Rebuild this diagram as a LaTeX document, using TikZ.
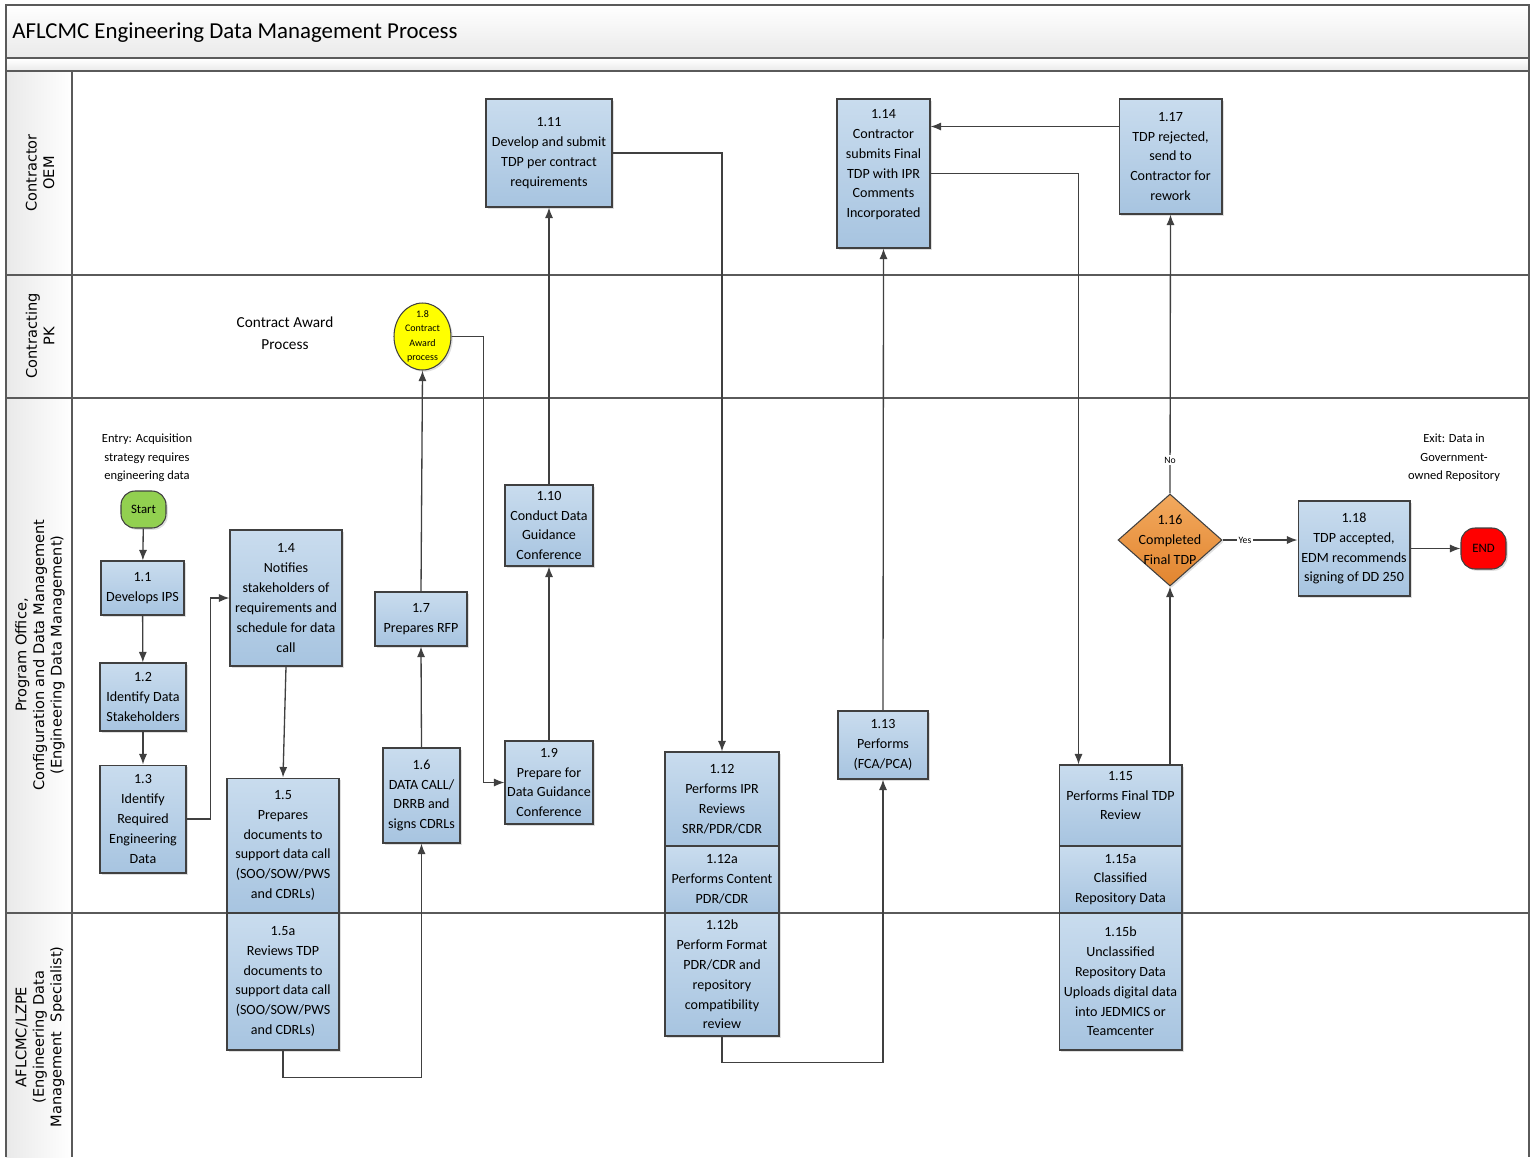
\documentclass[tikz,border=0pt]{standalone}
\usepackage{fontspec}
\setmainfont{Carlito}
\newfontfamily\lanefont{DejaVu Sans}
\usetikzlibrary{shapes.geometric,shadows,arrows.meta}

\definecolor{boxtop}{HTML}{C9DCEE}
\definecolor{boxbot}{HTML}{A7C4E0}
\definecolor{edgegray}{HTML}{404040}
\definecolor{framegray}{HTML}{5A5A5A}
\definecolor{bandgray}{HTML}{E9E9E9}
\definecolor{diatop}{HTML}{F2A95E}
\definecolor{diabot}{HTML}{E2852F}
\definecolor{startgreen}{HTML}{92D050}
\definecolor{endred}{HTML}{FF0000}
\definecolor{awardyellow}{HTML}{FFFF00}

\begin{document}
\begin{tikzpicture}[
    x=0.02cm, y=-0.02cm,
    every node/.style={font=\fontsize{8}{11.3}\selectfont},
    procbox/.style={rectangle, draw=edgegray, line width=0.6pt, top color=boxtop, bottom color=boxbot, align=center, inner sep=1pt, drop shadow={shadow xshift=1pt, shadow yshift=-1pt, opacity=0.25}},
    decision/.style={diamond, draw=edgegray, line width=0.6pt, top color=diatop, bottom color=diabot, inner sep=0pt, minimum width=2.08cm, minimum height=1.84cm, drop shadow={shadow xshift=1pt, shadow yshift=-1pt, opacity=0.25}},
    terminal/.style={rectangle, rounded corners=8pt, draw=edgegray, line width=0.6pt, minimum width=0.9cm, inner sep=1pt, font=\fontsize{7.3}{9}\selectfont, drop shadow={shadow xshift=1pt, shadow yshift=-1pt, opacity=0.25}},
    award/.style={ellipse, draw=edgegray, line width=0.6pt, fill=awardyellow, inner sep=0pt, minimum width=1.14cm, minimum height=1.34cm, drop shadow={shadow xshift=1pt, shadow yshift=-1pt, opacity=0.25}},
    note/.style={align=center, inner sep=0pt, font=\fontsize{7.1}{10.5}\selectfont},
    lanelabel/.style={rotate=90, align=center, inner sep=0pt, font=\lanefont\fontsize{8.3}{10}\selectfont},
    lane/.style={draw=framegray, line width=0.8pt},
    flow/.style={-{Latex[length=6pt,width=4.6pt]}, draw=edgegray, line width=0.75pt},
    tiny/.style={fill=white, inner sep=1pt, font=\fontsize{5.5}{6}\selectfont}
]
\useasboundingbox (0,0) rectangle (1534,1157);

% header bands and lane column
\shade[top color=white, bottom color=bandgray] (6,5) rectangle (1529,58);
\shade[top color=white, bottom color=bandgray] (6,59) rectangle (1529,71);
\shade[left color=bandgray, right color=white] (6,71) rectangle (72,1157);
\draw[lane] (6,1157) -- (6,5) -- (1529,5) -- (1529,1157);
\draw[lane] (6,58) -- (1529,58);
\draw[lane] (6,71) -- (1529,71);
\draw[lane] (72,71) -- (72,1157);
\draw[lane] (6,275) -- (1529,275);
\draw[lane] (6,398) -- (1529,398);
\draw[lane] (6,913) -- (1529,913);

\node[anchor=west, inner sep=0pt, font=\fontsize{13}{15}\selectfont] (title) at (12,33) {AFLCMC Engineering Data Management Process};

% lanes
\node[lanelabel] (laneoem) at (40,173) {Contractor\\OEM};
\node[lanelabel] (lanepk) at (40,336) {Contracting\\PK};
\node[lanelabel] (lanepo) at (40,655) {Program Office,\\Configuration and Data Management\\(Engineering Data Management)};
\node[lanelabel] (lanelz) at (40,1037) {AFLCMC/LZPE\\(Engineering Data\\Management\ \ Specialist)};

% notes
\node[note] (entry) at (147,458) {Entry: Acquisition\\strategy requires\\engineering data};
\node[note] (exit) at (1454,458) {Exit: Data in\\Government-\\owned Repository};
\node[align=center, font=\fontsize{8.7}{12.5}\selectfont] (awardnote) at (285,333) {Contract Award\\Process};

% steps
\node[terminal, fill=startgreen, minimum height=0.74cm] (nstart) at (143.5,509.5) {Start};
\node[procbox, minimum width=1.66cm, minimum height=1.08cm] (n11) at (142.5,588) {1.1\\Develops IPS};
\node[procbox, minimum width=1.72cm, minimum height=1.36cm] (n12) at (143,697) {1.2\\Identify Data\\Stakeholders};
\node[procbox, minimum width=1.72cm, minimum height=2.16cm] (n13) at (143,819) {1.3\\Identify\\Required\\Engineering\\Data};
\node[procbox, minimum width=2.24cm, minimum height=2.72cm] (n14) at (286,598) {1.4\\Notifies\\stakeholders of\\requirements and\\schedule for data\\call};
\node[procbox, minimum width=2.24cm, minimum height=2.70cm] (n15) at (283,845.5) {1.5\\Prepares\\documents to\\support data call\\(SOO/SOW/PWS\\and CDRLs)};
\node[procbox, minimum width=2.24cm, minimum height=2.74cm] (n15a) at (283,981.5) {1.5a\\Reviews TDP\\documents to\\support data call\\(SOO/SOW/PWS\\and CDRLs)};
\node[procbox, minimum width=1.54cm, minimum height=1.90cm] (n16) at (421.5,795.5) {1.6\\DATA CALL/\\DRRB and\\signs CDRLs};
\node[procbox, minimum width=1.84cm, minimum height=1.08cm] (n17) at (421,619) {1.7\\Prepares RFP};
\node[award] (n18) at (422.5,336.5) {};
\node[align=center, inner sep=0pt, font=\fontsize{5.7}{8.2}\selectfont] (n18t) at (n18) {1.8\\Contract\\Award\\process};
\node[procbox, minimum width=1.76cm, minimum height=1.66cm] (n19) at (549,782.5) {1.9\\Prepare for\\Data Guidance\\Conference};
\node[procbox, minimum width=1.76cm, minimum height=1.62cm] (n110) at (549,525.5) {1.10\\Conduct Data\\Guidance\\Conference};
\node[procbox, minimum width=2.52cm, minimum height=2.16cm] (n111) at (549,153) {1.11\\Develop and submit\\TDP per contract\\requirements};
\node[procbox, minimum width=2.28cm, minimum height=1.88cm] (n112) at (722,799) {1.12\\Performs IPR\\Reviews\\SRR/PDR/CDR};
\node[procbox, minimum width=2.28cm, minimum height=1.34cm] (n112a) at (722,879.5) {1.12a\\Performs Content\\PDR/CDR};
\node[procbox, minimum width=2.28cm, minimum height=2.46cm] (n112b) at (722,974.5) {1.12b\\Perform Format\\PDR/CDR and\\repository\\compatibility\\review};
\node[procbox, minimum width=1.80cm, minimum height=1.36cm] (n113) at (883,745) {1.13\\Performs\\(FCA/PCA)};
\node[procbox, minimum width=1.86cm, minimum height=2.98cm] (n114) at (883.5,173.5) {1.14\\Contractor\\submits Final\\TDP with IPR\\Comments\\Incorporated\\[0pt]};
\node[procbox, minimum width=2.46cm, minimum height=1.62cm] (n115) at (1120.5,805.5) {1.15\\Performs Final TDP\\Review\\[0pt]};
\node[procbox, minimum width=2.46cm, minimum height=1.34cm] (n115a) at (1120.5,879.5) {1.15a\\Classified\\Repository Data};
\node[procbox, minimum width=2.46cm, minimum height=2.74cm] (n115b) at (1120.5,981.5) {1.15b\\Unclassified\\Repository Data\\Uploads digital data\\into JEDMICS or\\Teamcenter};
\node[decision] (n116) at (1170,540) {};
\node[align=center, inner sep=0pt] (n116t) at (n116) {1.16\\Completed\\Final TDP};
\node[procbox, minimum width=2.06cm, minimum height=2.30cm] (n117) at (1170.5,156.5) {1.17\\TDP rejected,\\send to\\Contractor for\\rework};
\node[procbox, minimum width=2.24cm, minimum height=1.90cm] (n118) at (1354,548.5) {1.18\\TDP accepted,\\EDM recommends\\signing of DD 250};
\node[terminal, fill=endred, minimum height=0.82cm] (nend) at (1483.5,548.5) {END};

% connectors
\draw[flow] (nstart) -- (n11);
\draw[flow] (n11) -- (n12);
\draw[flow] (n12) -- (n13);
\draw[flow] (n13.east) -- ++(24,0) |- (n14.west);
\draw[flow] (n14.south) -- (n15.north);
\draw[flow] (n15a.south) -- ++(0,27) -| (n16.south);
\draw[flow] (n16.north) -- (n17.south);
\draw[flow] (n17.north) -- (n18.south);
\draw[flow] (n18.east) -- ++(32,0) |- (n19.west);
\draw[flow] (n19.north) -- (n110.south);
\draw[flow] (n110.north) -- (n111.south);
\draw[flow] (n111.east) -| (n112.north);
\draw[flow] (n112b.south) -- ++(0,26) -| (n113.south);
\draw[flow] (n113.north) -- (n114.south);
\draw[flow] (n114.east) -| ([xshift=-0.84cm]n115.north);
\draw[flow] (n116.south |- n115.north) -- (n116.south);
\draw[flow] (n116.north) -- (n117.south) node[tiny, pos=0.12] {No};
\draw[flow] ([yshift=0.6cm]n117.west) -- ([yshift=0.6cm]n117.west -| n114.east);
\draw[flow] (n116.east) -- (n116.east -| n118.west) node[tiny, pos=0.3] {Yes};
\draw[flow] (n118.east) -- (nend.west);

\end{tikzpicture}
\end{document}
